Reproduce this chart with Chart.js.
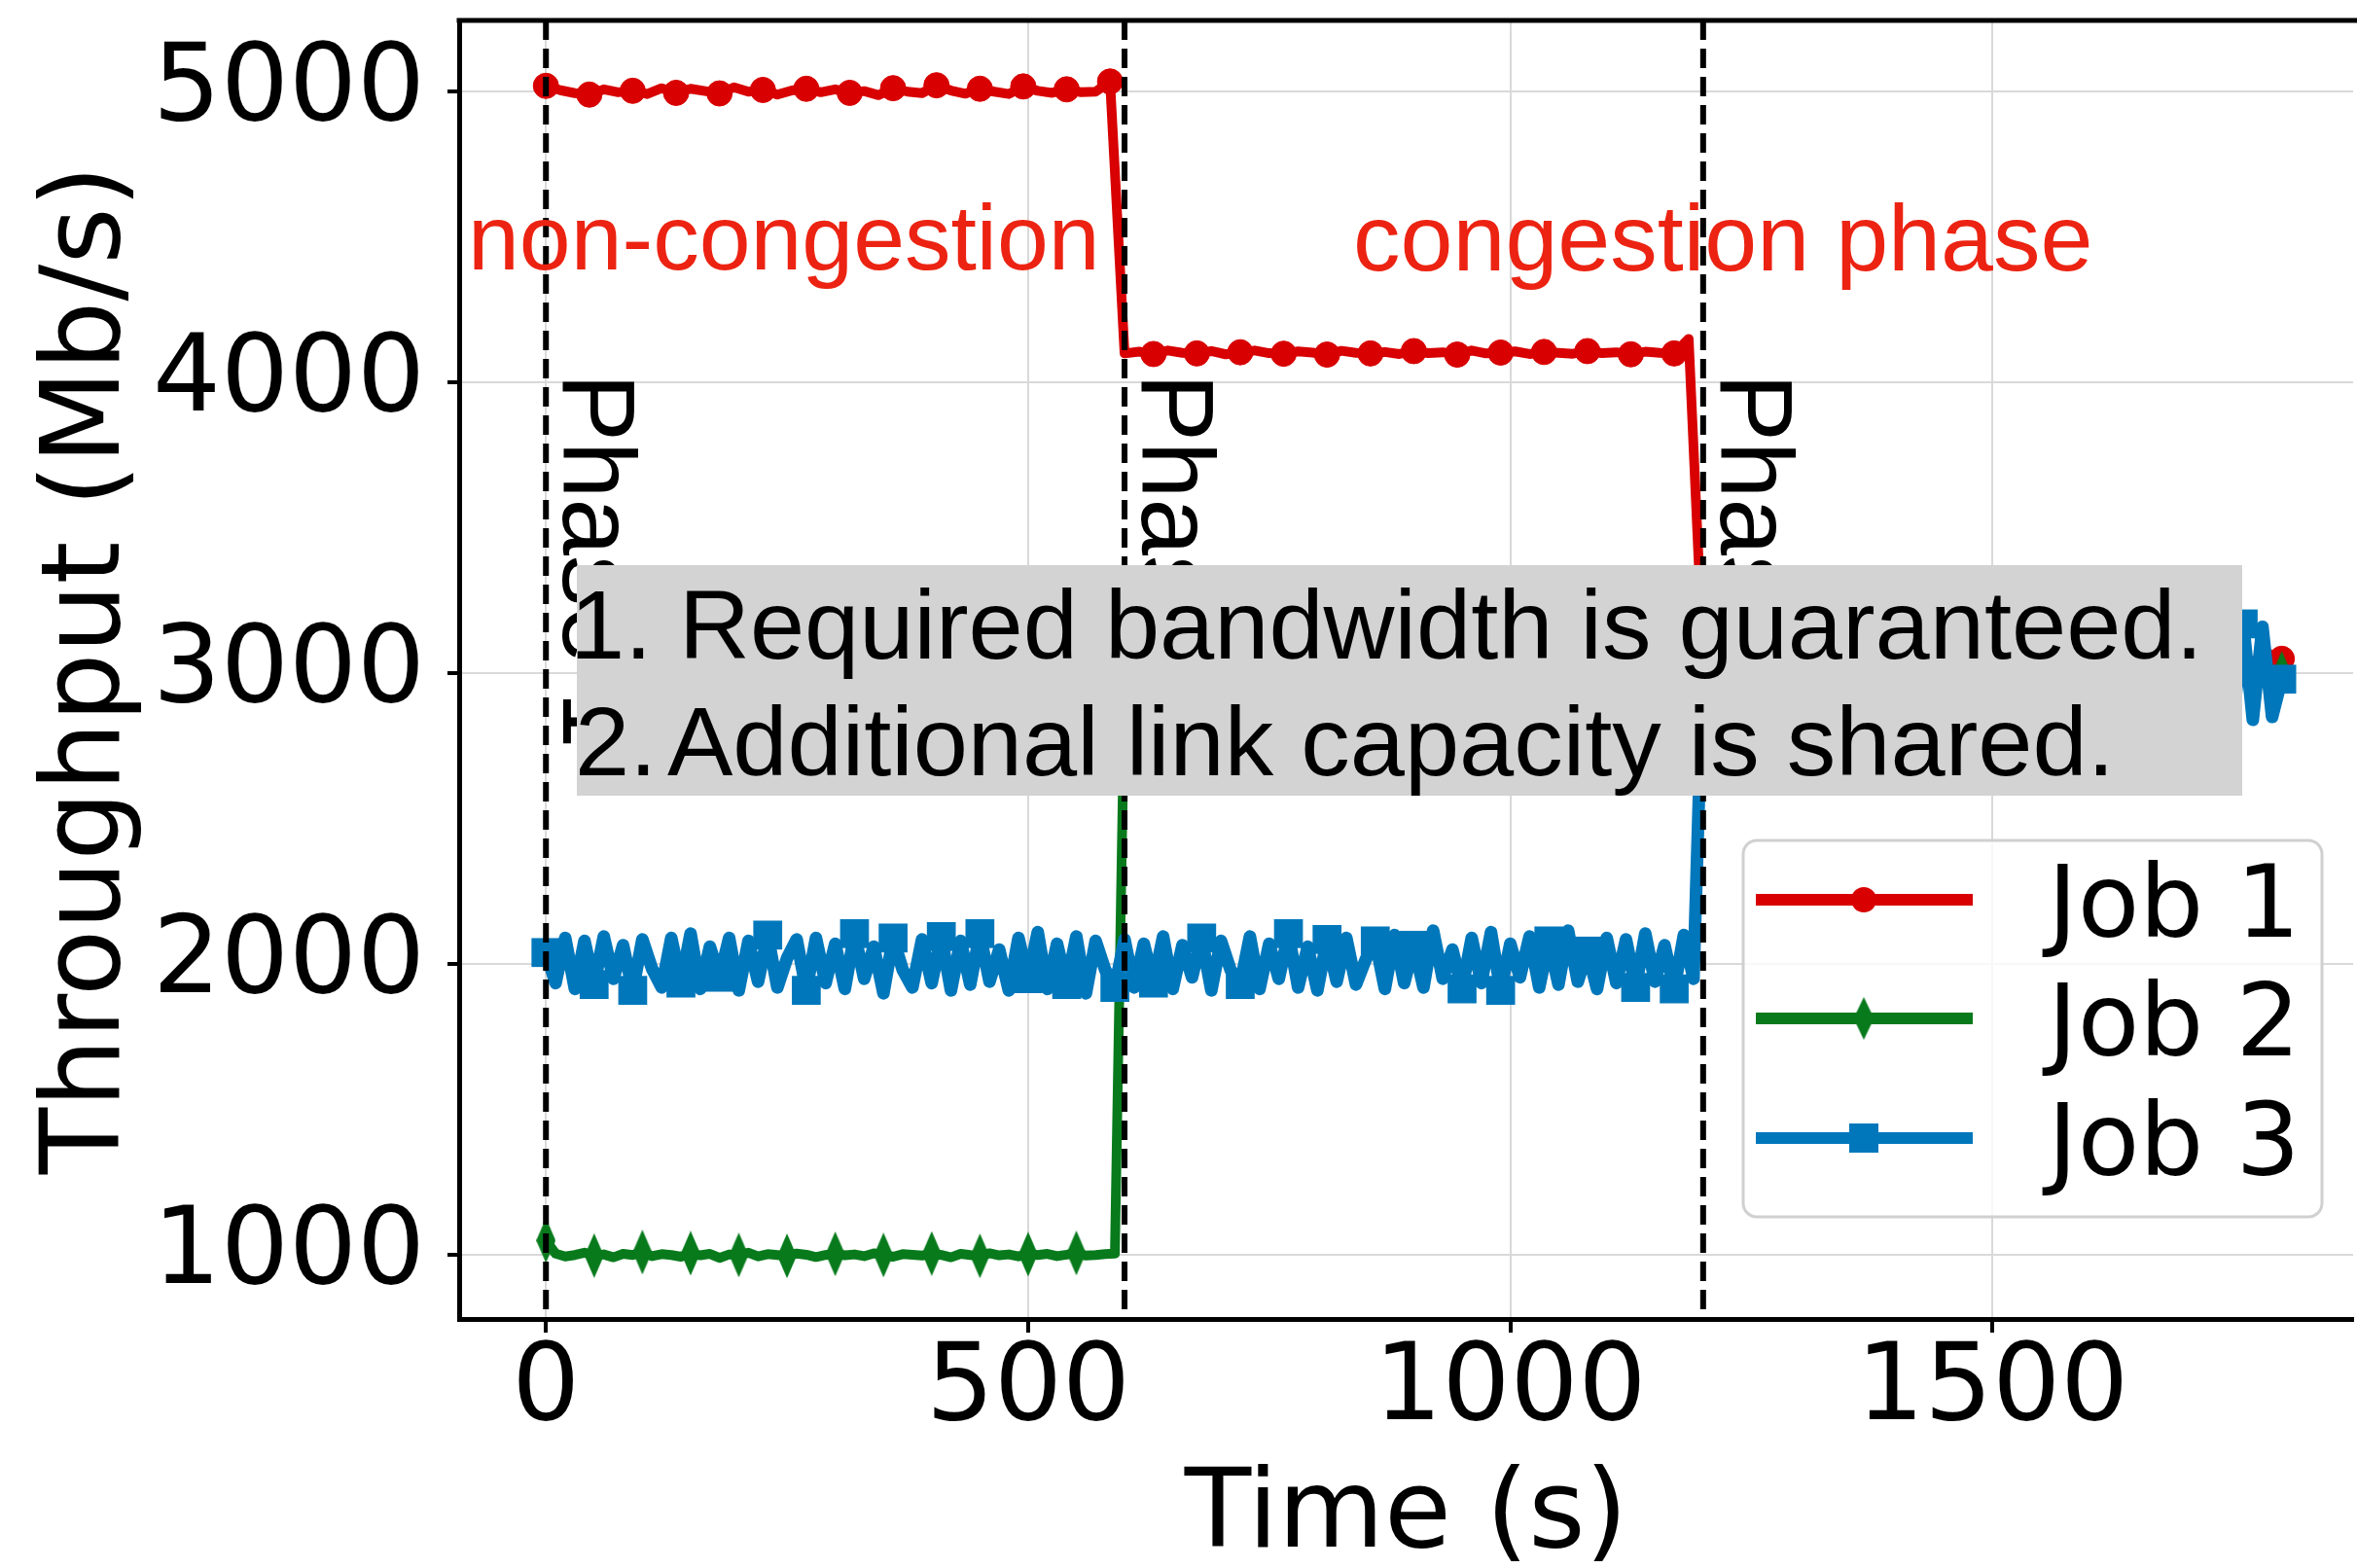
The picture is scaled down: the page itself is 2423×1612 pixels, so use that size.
<!DOCTYPE html>
<html>
<head>
<meta charset="utf-8">
<script src="https://cdn.jsdelivr.net/npm/chart.js@4.4.0/dist/chart.umd.min.js"></script>
<style>
  html, body { margin: 0; padding: 0; background: #fff; overflow: hidden; }
  #wrap { width: 2440px; height: 1612px; }
</style>
</head>
<body>
<div id="wrap"><canvas id="chart" width="2440" height="1612"></canvas></div>
<script>
// sampling grids (seconds)
const times15 = Array.from({ length: 121 }, (_, i) => i * 15);
const times10 = Array.from({ length: 181 }, (_, i) => i * 10);

// Job 1 throughput (Mb/s), every 15 s
const job1 = [
  5020, 5005, 4995, 4990, 5008, 4998, 5003, 4992, 5012, 4996,
  5010, 5002, 4994, 5015, 5000, 5006, 4990, 5004, 5010, 4998,
  5008, 4996, 5002, 4988, 5012, 5000, 4995, 5022, 5004, 4993,
  5010, 5000, 4992, 5018, 5003, 4996, 5008, 4998, 5000, 5035,
  4100, 4106, 4098, 4110, 4102, 4100, 4108, 4097, 4104, 4110,
  4101, 4099, 4107, 4103, 4096, 4109, 4102, 4100, 4105, 4098,
  4108, 4101, 4104, 4096, 4110, 4100, 4103, 4107, 4098, 4105,
  4102, 4099, 4108, 4101, 4104, 4097, 4106, 4102, 4100, 4150,
  3040, 3060, 3020, 3080, 3030, 3070, 3010, 3050, 3090, 3030,
  3060, 3020, 3075, 3040, 3085, 3025, 3055, 3070, 3035, 3080,
  3045, 3015, 3065, 3050, 3090, 3030, 3060, 3040, 3075, 3020,
  3055, 3085, 3040, 3065, 3030, 3070, 3050, 3060, 3040, 3070,
  3050
];

// Job 2 throughput (Mb/s), every 10 s
const job2 = [
  1050, 1005, 995, 1000, 1008, 998, 1002, 992, 1004, 1000,
  1010, 996, 1003, 1000, 994, 1006, 999, 1004, 990, 1002,
  1000, 1008, 995, 1003, 1000, 997, 1005, 1001, 993, 1000,
  1004, 999, 1002, 996, 1006, 1000, 994, 1003, 1001, 998,
  1005, 1000, 992, 1004, 1000, 997, 1006, 999, 1002, 995,
  1003, 1000, 1004, 996, 1001, 1007, 998, 1000, 1003, 1005,
  2940, 2962, 2948, 2955, 2936, 2958, 2944, 2966, 2950, 2940,
  2957, 2946, 2962, 2938, 2954, 2949, 2964, 2941, 2956, 2947,
  2960, 2939, 2952, 2945, 2963, 2950, 2937, 2958, 2946, 2961,
  2943, 2955, 2948, 2966, 2940, 2953, 2947, 2959, 2942, 2956,
  2950, 2964, 2938, 2951, 2945, 2960, 2941, 2957, 2949, 2963,
  2944, 2952, 2939, 2958, 2947, 2961, 2943, 2955, 2950, 2948,
  3010, 2990, 3015, 2985, 3005, 2995, 3020, 2980, 3008, 2992,
  3012, 2988, 3004, 2996, 3018, 2984, 3006, 2994, 3014, 2986,
  3002, 2998, 3016, 2982, 3010, 2990, 3007, 2993, 3013, 2987,
  3003, 2997, 3019, 2981, 3009, 2991, 3011, 2989, 3005, 2995,
  3017, 2983, 3006, 2994, 3012, 2988, 3004, 2996, 3015, 2985,
  3008, 2992, 3010, 2990, 3014, 2986, 3003, 2997, 3011, 2989,
  3000
];

// Job 3 throughput (Mb/s), every 10 s
const job3 = [
  2040, 1935, 2090, 1915, 2080, 1930, 2095, 1950, 2065, 1910,
  2085, 1985, 1920, 2090, 1935, 2105, 1915, 2060, 1955, 2090,
  1910, 2080, 1940, 2100, 1920, 2020, 2085, 1910, 2090, 1935,
  2070, 1915, 2105, 1950, 2060, 1900, 2090, 1980, 1920, 2085,
  1935, 2095, 1910, 2080, 1930, 2105, 1940, 2050, 1910, 2090,
  1950, 2110, 1915, 2070, 1930, 2095, 1900, 2080, 1980, 1920,
  2085, 1920, 2070, 1935, 2095, 1915, 2065, 1955, 2090, 1910,
  2080, 1980, 1930, 2095, 1915, 2070, 1950, 2105, 1920, 2060,
  1910, 2085, 1940, 2090, 1930, 2015, 2080, 1915, 2100, 1935,
  2065, 1920, 2115, 1950, 2050, 1915, 2090, 1935, 2110, 1910,
  2070, 1955, 2095, 1920, 2080, 1930, 2115, 1940, 2045, 1915,
  2090, 1935, 2085, 1920, 2105, 1940, 2065, 1915, 2100, 1950,
  3060, 2880, 3120, 2920, 3150, 2870, 3100, 2940, 3160, 2860,
  3090, 2900, 3140, 2850, 3110, 2930, 3170, 2880, 3080, 2910,
  3150, 2860, 3120, 2940, 3100, 2870, 3160, 2890, 3070, 2920,
  3140, 2850, 3110, 2930, 3170, 2870, 3090, 2900, 3150, 2860,
  3120, 2890, 3160, 2870, 3100, 2930, 3140, 2850, 3110, 2910,
  3170, 2860, 3150, 2870, 3180, 2850, 3170, 2840, 3160, 2850,
  2980
];

const seriesLabels = ["Job 1", "Job 2", "Job 3"];
const xTicks = [0, 500, 1000, 1500];
const yTicks = [1000, 2000, 3000, 4000, 5000];
const phaseTimes = [0, 600, 1200];
const phaseLabels = ["Phase 1", "Phase 2", "Phase 3"];
const noteNumbers = ["1.", "2."];
const noteLines = ["Required bandwidth is guaranteed.", "Additional link capacity is shared."];

const RED = "#d80000", GREEN = "#087a1c", BLUE = "#0077bb";

// thin diamond marker for Job 2
function thinDiamond(w, h, color) {
  const c = document.createElement("canvas");
  c.width = w; c.height = h;
  const g = c.getContext("2d");
  g.fillStyle = color;
  g.beginPath();
  g.moveTo(w / 2, 0); g.lineTo(w, h / 2); g.lineTo(w / 2, h); g.lineTo(0, h / 2);
  g.closePath(); g.fill();
  return c;
}
const diamond = thinDiamond(20, 46, GREEN);

const toXY = (ts, vs) => vs.map((v, i) => ({ x: ts[i], y: v }));

const overlay = {
  id: "overlay",
  afterDraw(chart) {
    const { ctx, chartArea: ca, scales: { x } } = chart;
    ctx.save();

    // top spine
    ctx.strokeStyle = "#000";
    ctx.lineWidth = 5;
    ctx.beginPath();
    ctx.moveTo(ca.left - 2.5, ca.top);
    ctx.lineTo(chart.width, ca.top);
    ctx.stroke();

    // phase boundaries
    ctx.lineWidth = 6;
    ctx.setLineDash([20, 9]);
    phaseTimes.forEach(t => {
      const px = x.getPixelForValue(t);
      ctx.beginPath();
      ctx.moveTo(px, ca.top);
      ctx.lineTo(px, ca.bottom);
      ctx.stroke();
    });
    ctx.setLineDash([]);

    // rotated phase labels
    ctx.fillStyle = "#000";
    ctx.font = "105px 'Liberation Sans'";
    ctx.textAlign = "left";
    ctx.textBaseline = "alphabetic";
    phaseTimes.forEach((t, i) => {
      ctx.save();
      ctx.translate(x.getPixelForValue(t) + 18, 384);
      ctx.rotate(Math.PI / 2);
      ctx.fillText(phaseLabels[i], 0, 0);
      ctx.restore();
    });

    // red phase names
    ctx.fillStyle = "#ec2312";
    ctx.font = "95px 'Liberation Sans'";
    ctx.fillText("non-congestion", 481, 277);
    ctx.font = "97px 'Liberation Sans'";
    ctx.fillText("congestion phase", 1391, 278);

    // grey note box
    ctx.fillStyle = "#d3d3d3";
    ctx.fillRect(593, 581, 2305 - 593, 818 - 581);
    ctx.fillStyle = "#000";
    ctx.font = "101px 'Liberation Sans'";
    ctx.fillText(noteNumbers[0], 586, 677);
    ctx.fillText(noteLines[0], 698, 677);
    ctx.fillText(noteNumbers[1], 591, 797);
    ctx.fillText(noteLines[1], 686, 797);

    // legend
    const lg = { l: 1792, t: 864, r: 2387, b: 1251, rad: 14 };
    ctx.beginPath();
    ctx.roundRect(lg.l, lg.t, lg.r - lg.l, lg.b - lg.t, lg.rad);
    ctx.fillStyle = "rgba(255,255,255,0.8)";
    ctx.fill();
    ctx.strokeStyle = "#d0d0d0";
    ctx.lineWidth = 3;
    ctx.stroke();

    const rows = [925, 1047, 1170];
    chart.data.datasets.forEach((ds, i) => {
      const y = rows[i];
      ctx.strokeStyle = ds.borderColor;
      ctx.lineWidth = 12;
      ctx.beginPath();
      ctx.moveTo(1805, y);
      ctx.lineTo(2028, y);
      ctx.stroke();
      ctx.fillStyle = ds.borderColor;
      if (i === 0) {
        ctx.beginPath(); ctx.arc(1916, y, 13, 0, Math.PI * 2); ctx.fill();
      } else if (i === 1) {
        ctx.drawImage(thinDiamond(21, 44, GREEN), 1916 - 10.5, y - 22);
      } else {
        ctx.fillRect(1916 - 15, y - 15, 30, 30);
      }
      ctx.fillStyle = "#000";
      ctx.font = "104px 'DejaVu Sans'";
      ctx.fillText(ds.label, 2105, y + 38);
    });

    ctx.restore();
  }
};

new Chart(document.getElementById("chart"), {
  type: "line",
  data: {
    datasets: [
      {
        label: seriesLabels[0],
        data: toXY(times15, job1),
        borderColor: RED, backgroundColor: RED,
        borderWidth: 10,
        pointStyle: "circle",
        pointRadius: c => (c.dataIndex % 3 === 0 ? 13 : 0),
        pointBackgroundColor: RED, pointBorderColor: RED, pointBorderWidth: 1,
        order: 2
      },
      {
        label: seriesLabels[1],
        data: toXY(times10, job2),
        borderColor: GREEN, backgroundColor: GREEN,
        borderWidth: 10,
        pointStyle: c => (c.dataIndex % 5 === 0 ? diamond : "circle"),
        pointRadius: c => (c.dataIndex % 5 === 0 ? 10 : 0),
        order: 1
      },
      {
        label: seriesLabels[2],
        data: toXY(times10, job3),
        borderColor: BLUE, backgroundColor: BLUE,
        borderWidth: 13,
        pointStyle: "rect",
        pointRadius: c => ((c.dataIndex * 10) % 45 < 10 ? 21 : 0),
        pointBackgroundColor: BLUE, pointBorderColor: BLUE, pointBorderWidth: 0,
        order: 0
      }
    ]
  },
  options: {
    responsive: false,
    animation: false,
    devicePixelRatio: 1,
    layout: { padding: { top: 21, right: 4, bottom: 0, left: 0 } },
    elements: { line: { tension: 0, borderJoinStyle: "round", borderCapStyle: "round" } },
    plugins: { legend: { display: false }, tooltip: { enabled: false } },
    scales: {
      x: {
        type: "linear", min: -90, max: 1874,
        afterBuildTicks: s => { s.ticks = xTicks.map(v => ({ value: v })); },
        afterFit: s => { s.height = 256; s.paddingLeft = 0; s.paddingRight = 0; },
        grid: { color: "#d9d9d9", lineWidth: 2, tickColor: "#000", tickWidth: 4, tickLength: 14 },
        border: { color: "#000", width: 5 },
        ticks: {
          color: "#000", padding: 5, maxRotation: 0, autoSkip: false,
          callback: v => String(v),
          font: { family: "DejaVu Sans", size: 110, lineHeight: 1 }
        },
        title: {
          display: true, text: "Time (s)", color: "#000",
          font: { family: "DejaVu Sans", size: 112, lineHeight: 1 },
          padding: { top: 0, bottom: -5 }
        }
      },
      y: {
        type: "linear", min: 780, max: 5245,
        afterBuildTicks: s => { s.ticks = yTicks.map(v => ({ value: v })); },
        afterFit: s => { s.width = 472; s.paddingTop = 0; s.paddingBottom = 0; },
        grid: { color: "#d9d9d9", lineWidth: 2, tickColor: "#000", tickWidth: 4, tickLength: 12 },
        border: { color: "#000", width: 5 },
        ticks: {
          color: "#000", padding: 23,
          callback: v => String(v),
          font: { family: "DejaVu Sans", size: 110, lineHeight: 1 }
        },
        title: {
          display: true, text: "Throughput (Mb/s)", color: "#000",
          font: { family: "DejaVu Sans", size: 112, lineHeight: 1 },
          padding: { top: 37, bottom: 0 }
        }
      }
    }
  },
  plugins: [overlay]
});
</script>
</body>
</html>
